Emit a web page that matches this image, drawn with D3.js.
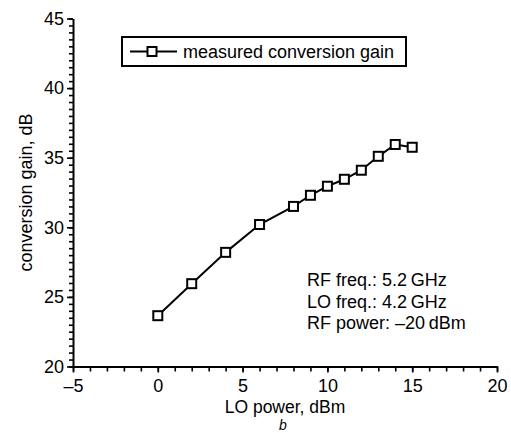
<!DOCTYPE html>
<html>
<head>
<meta charset="utf-8">
<script src="https://cdn.jsdelivr.net/npm/d3@7"></script>
<style>
  body { margin: 0; background: #fff; }
  text { font-family: "Liberation Sans", Arial, sans-serif; fill: #000; }
</style>
</head>
<body>
<div id="chart"></div>
<script>
// LO power (dBm) and measured conversion gain (dB)
const loPower = [0, 2, 4, 6, 8, 9, 10, 11, 12, 13, 14, 15];
const convGain = [23.65, 25.95, 28.2, 30.2, 31.5, 32.3, 32.95, 33.45, 34.1, 35.1, 35.95, 35.75];
const xTicks = [-5, 0, 5, 10, 15, 20];
const yTicks = [20, 25, 30, 35, 40, 45];
const legendLabel = "measured conversion gain";
const notes = ["RF freq.: 5.2\u2009GHz", "LO freq.: 4.2\u2009GHz", "RF power: \u201320\u2009dBm"];

const W = 511, H = 433;
const margin = { top: 18.5, right: 14, bottom: 66.5, left: 73 };

const svg = d3.select("#chart").append("svg")
    .attr("width", W)
    .attr("height", H);

const x = d3.scaleLinear().domain([-5, 20]).range([margin.left, W - margin.right]);
const y = d3.scaleLinear().domain([20, 45]).range([H - margin.bottom, margin.top]);

const fmt = d => d < 0 ? "\u2013" + Math.abs(d) : String(d);

// minor ticks first
svg.append("g")
    .attr("transform", `translate(0,${y(20)})`)
    .call(d3.axisBottom(x).tickValues(d3.range(-5, 21, 1)).tickSize(5).tickFormat(""))
    .call(g => g.select(".domain").remove())
    .call(g => g.selectAll("line").attr("stroke-width", 1.6));

svg.append("g")
    .attr("transform", `translate(${x(-5)},0)`)
    .call(d3.axisLeft(y).tickValues(d3.range(20, 45.01, 0.5)).tickSize(4).tickFormat(""))
    .call(g => g.select(".domain").remove())
    .call(g => g.selectAll("line").attr("stroke-width", 1.6));

// major axes
svg.append("g")
    .attr("transform", `translate(0,${y(20)})`)
    .call(d3.axisBottom(x).tickValues(xTicks).tickSize(6).tickSizeOuter(0).tickPadding(7).tickFormat(fmt))
    .call(g => g.select(".domain").attr("stroke-width", 2))
    .call(g => g.selectAll("line").attr("stroke-width", 1.6))
    .call(g => g.selectAll("text").attr("font-size", 18).attr("font-family", "Liberation Sans, Arial, sans-serif"));

svg.append("g")
    .attr("transform", `translate(${x(-5)},0)`)
    .call(d3.axisLeft(y).tickValues(yTicks).tickSize(6).tickSizeOuter(0).tickPadding(3).tickFormat(fmt))
    .call(g => g.select(".domain").attr("stroke-width", 2))
    .call(g => g.selectAll("line").attr("stroke-width", 1.6))
    .call(g => g.selectAll("text").attr("font-size", 18).attr("font-family", "Liberation Sans, Arial, sans-serif"));

// axis titles
svg.append("text")
    .attr("x", x(7.5)).attr("y", 413)
    .attr("text-anchor", "middle").attr("font-size", 17.5)
    .text("LO power, dBm");

svg.append("text")
    .attr("x", x(7.5) - 2).attr("y", 429.5)
    .attr("text-anchor", "middle").attr("font-size", 14).attr("font-style", "italic")
    .text("b");

svg.append("text")
    .attr("transform", `translate(32,${y(32.5)}) rotate(-90)`)
    .attr("text-anchor", "middle").attr("font-size", 18)
    .text("conversion gain, dB");

// data line + markers
const pts = loPower.map((v, i) => [v, convGain[i]]);
svg.append("path")
    .datum(pts)
    .attr("fill", "none").attr("stroke", "#000").attr("stroke-width", 2)
    .attr("d", d3.line().x(d => x(d[0])).y(d => y(d[1])));

const sq = 9;
svg.selectAll("rect.pt")
    .data(pts)
    .join("rect")
    .attr("class", "pt")
    .attr("x", d => x(d[0]) - sq / 2).attr("y", d => y(d[1]) - sq / 2)
    .attr("width", sq).attr("height", sq)
    .attr("fill", "#fff").attr("stroke", "#000").attr("stroke-width", 2);

// legend
const lg = svg.append("g");
lg.append("rect")
    .attr("x", 122).attr("y", 37).attr("width", 284).attr("height", 29)
    .attr("fill", "#fff").attr("stroke", "#000").attr("stroke-width", 2);
lg.append("line")
    .attr("x1", 130).attr("x2", 177).attr("y1", 51.5).attr("y2", 51.5)
    .attr("stroke", "#000").attr("stroke-width", 2);
lg.append("rect")
    .attr("x", 152 - sq / 2).attr("y", 51.5 - sq / 2).attr("width", sq).attr("height", sq)
    .attr("fill", "#fff").attr("stroke", "#000").attr("stroke-width", 2);
lg.append("text")
    .attr("x", 183).attr("y", 58).attr("font-size", 18)
    .text(legendLabel);

// annotation
svg.selectAll("text.note")
    .data(notes)
    .join("text")
    .attr("class", "note")
    .attr("x", 307).attr("y", (d, i) => 286 + i * 21.7)
    .attr("font-size", 18)
    .text(d => d);
</script>
</body>
</html>
